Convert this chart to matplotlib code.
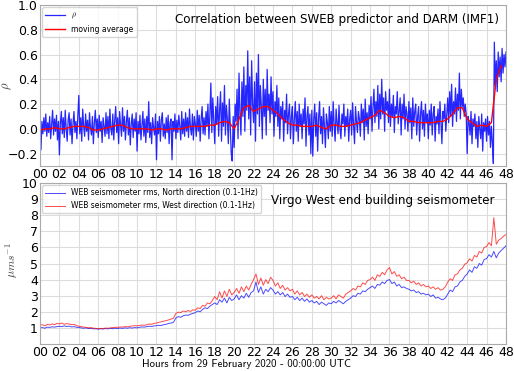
"""
Correlation between SWEB predictor and DARM (IMF1), and Virgo WEB seismometer rms.
"""

import numpy as np
import matplotlib
matplotlib.use("Agg")
import matplotlib.pyplot as plt

# correlation rho, one value every 0.1 h (rows = hours 0..47), last value at 48 h
rho = [
    0.02, -0.17, 0.06, -0.04, 0.09, -0.02, 0.12, -0.06, 0.05, -0.03,
    0.10, -0.08, 0.04, 0.15, -0.05, 0.08, -0.02, 0.11, -0.09, 0.06,
    -0.21, 0.05, 0.14, -0.04, 0.09, -0.07, 0.15, 0.00, -0.10, 0.07,
    0.13, -0.05, 0.08, -0.12, 0.04, 0.14, -0.03, 0.06, -0.08, 0.11,
    0.27, -0.04, 0.09, -0.10, 0.16, 0.02, -0.06, 0.12, -0.02, 0.07,
    -0.09, 0.13, 0.01, -0.05, 0.10, -0.12, 0.05, 0.15, -0.03, 0.08,
    -0.07, 0.11, -0.02, 0.06, -0.11, 0.09, 0.02, -0.06, 0.13, -0.04,
    0.10, -0.08, 0.16, 0.00, -0.05, 0.12, -0.09, 0.07, 0.18, -0.03,
    0.09, -0.12, 0.14, 0.03, -0.06, 0.17, -0.02, 0.10, -0.09, 0.06,
    0.15, -0.05, 0.09, -0.13, 0.04, 0.12, -0.07, 0.08, -0.02, 0.13,
    -0.18, 0.06, -0.04, 0.11, -0.09, 0.03, 0.14, -0.06, 0.08, -0.11,
    0.10, -0.03, 0.22, -0.07, 0.05, -0.12, 0.09, 0.01, -0.05, 0.12,
    -0.25, 0.06, -0.04, 0.10, -0.10, 0.07, 0.13, -0.06, 0.04, -0.08,
    0.09, -0.03, 0.11, -0.12, 0.05, 0.08, -0.25, 0.06, -0.02, 0.12,
    -0.08, 0.07, -0.03, 0.11, 0.02, -0.09, 0.14, -0.04, 0.08, -0.06,
    0.13, -0.02, 0.09, -0.07, 0.16, 0.01, -0.05, 0.12, -0.09, 0.10,
    0.04, -0.06, 0.15, -0.02, 0.11, -0.10, 0.08, 0.18, -0.04, 0.09,
    -0.05, 0.14, 0.02, 0.20, -0.08, 0.12, 0.37, -0.03, 0.25, 0.06,
    -0.12, 0.18, 0.04, 0.26, -0.06, 0.15, 0.30, -0.10, 0.21, 0.02,
    0.35, -0.05, 0.19, 0.08, -0.12, 0.24, 0.03, -0.20, -0.26, 0.10,
    -0.15, 0.20, 0.06, 0.32, -0.08, 0.45, 0.12, -0.05, 0.38, 0.10,
    0.50, -0.02, 0.35, 0.15, 0.63, 0.08, 0.42, -0.05, 0.55, 0.20,
    0.05, 0.38, -0.10, 0.45, 0.12, 0.60, 0.02, 0.35, 0.18, -0.08,
    0.40, 0.10, 0.32, -0.05, 0.48, 0.15, 0.28, 0.05, 0.42, 0.12,
    0.30, -0.06, 0.22, 0.10, 0.35, 0.02, 0.25, -0.08, 0.18, 0.08,
    0.22, -0.10, 0.15, 0.05, 0.28, -0.04, 0.12, 0.20, -0.08, 0.10,
    0.18, -0.12, 0.08, 0.22, -0.02, 0.14, -0.10, 0.20, 0.02, 0.12,
    -0.08, 0.16, 0.04, 0.25, -0.14, 0.10, 0.18, -0.05, 0.12, -0.20,
    0.15, -0.22, 0.08, 0.20, -0.06, 0.13, -0.18, 0.09, 0.22, -0.04,
    0.10, -0.12, 0.17, 0.02, -0.15, 0.12, 0.05, -0.08, 0.18, -0.02,
    0.14, -0.06, 0.22, 0.03, -0.10, 0.16, 0.05, -0.04, 0.19, 0.00,
    -0.08, 0.12, 0.04, 0.20, -0.06, 0.10, 0.02, 0.16, -0.10, 0.08,
    0.15, -0.05, 0.21, 0.03, -0.12, 0.18, 0.06, -0.03, 0.14, 0.08,
    -0.06, 0.20, 0.05, 0.16, -0.09, 0.24, 0.02, 0.13, -0.04, 0.19,
    0.08, 0.26, -0.02, 0.18, 0.32, 0.05, 0.22, 0.10, 0.35, 0.00,
    0.28, 0.08, 0.40, 0.12, 0.25, -0.02, 0.30, 0.15, 0.22, 0.05,
    0.32, 0.02, 0.20, 0.10, 0.27, -0.03, 0.18, 0.12, 0.30, 0.04,
    0.15, 0.25, -0.05, 0.20, 0.08, 0.28, 0.00, 0.18, 0.12, -0.02,
    0.22, 0.05, 0.17, -0.08, 0.25, 0.02, 0.14, 0.20, -0.05, 0.10,
    0.18, -0.10, 0.12, 0.22, 0.00, 0.15, -0.06, 0.20, 0.05, 0.12,
    -0.08, 0.15, 0.03, 0.20, -0.05, 0.12, 0.18, -0.10, 0.10, 0.04,
    0.16, -0.04, 0.22, 0.06, -0.12, 0.14, 0.08, 0.20, -0.02, 0.12,
    0.25, 0.05, 0.30, 0.10, 0.36, 0.02, 0.22, 0.12, 0.33, 0.06,
    0.28, 0.15, 0.45, 0.08, 0.32, 0.18, 0.25, 0.10, 0.20, 0.12,
    -0.20, 0.10, 0.05, -0.05, 0.14, -0.12, 0.08, 0.02, 0.12, -0.08,
    0.06, -0.15, 0.10, 0.00, -0.08, 0.12, -0.18, 0.05, -0.02, 0.08,
    -0.10, 0.10, -0.05, 0.06, -0.15, 0.02, -0.12, -0.28, 0.70, 0.35,
    0.55, 0.30, 0.62, 0.42, 0.58, 0.38, 0.65, 0.45, 0.60, 0.50,
    0.62,
]

# moving average of rho, one value every 0.5 h from 0 to 47.5 h
rho_avg = [
    -0.01, 0.00, 0.00, 0.01, 0.00, 0.00, 0.01, 0.02, 0.02, 0.02,
    0.01, -0.01, -0.01, 0.00, 0.01, 0.02, 0.03, 0.03, 0.01, 0.00,
    0.00, 0.00, 0.00, -0.01, 0.00, 0.00, -0.01, 0.00, 0.00, 0.00,
    0.01, 0.02, 0.02, 0.02, 0.02, 0.03, 0.03, 0.05, 0.06, 0.05,
    0.00, 0.08, 0.17, 0.19, 0.14, 0.16, 0.18, 0.18, 0.15, 0.12,
    0.08, 0.05, 0.03, 0.03, 0.02, 0.02, 0.02, 0.03, 0.01, 0.00,
    0.03, 0.03, 0.02, 0.02, 0.03, 0.04, 0.05, 0.07, 0.09, 0.11,
    0.15, 0.13, 0.10, 0.09, 0.10, 0.09, 0.06, 0.06, 0.05, 0.05,
    0.05, 0.05, 0.06, 0.06, 0.08, 0.12, 0.17, 0.17, 0.08, 0.05,
    0.02, 0.03, 0.02, 0.05, 0.40, 0.51,
]

# seismometer rms (um/s), one value every 0.25 h (rows = 2 h), last value at 48 h
north = [
    1.00, 1.02, 0.98, 1.05, 1.03, 1.07, 1.05, 1.08,
    1.10, 1.08, 1.12, 1.09, 1.11, 1.06, 1.08, 1.04,
    1.02, 1.00, 0.98, 1.00, 0.96, 0.97, 0.94, 0.95,
    0.92, 0.95, 0.93, 0.96, 0.94, 0.97, 0.95, 0.98,
    0.96, 0.99, 0.97, 1.00, 0.98, 1.01, 0.99, 1.02,
    1.00, 1.04, 1.06, 1.05, 1.08, 1.10, 1.09, 1.12,
    1.14, 1.16, 1.15, 1.20, 1.22, 1.28, 1.30, 1.35,
    1.62, 1.70, 1.66, 1.75, 1.80, 1.78, 1.85, 1.90,
    1.95, 2.05, 2.00, 2.15, 2.25, 2.20, 2.35, 2.45,
    2.55, 2.45, 2.75, 2.60, 2.85, 2.55, 2.90, 2.70,
    2.80, 3.05, 2.75, 3.00, 2.85, 3.15, 2.90, 3.20,
    3.30, 3.85, 3.20, 3.55, 3.10, 3.40, 3.25, 3.50,
    3.35, 3.10, 3.25, 3.05, 3.20, 2.95, 3.10, 2.90,
    2.95, 2.75, 2.90, 2.70, 2.85, 2.65, 2.80, 2.60,
    2.70, 2.55, 2.65, 2.45, 2.60, 2.50, 2.40, 2.55,
    2.50, 2.65, 2.55, 2.70, 2.60, 2.50, 2.65, 2.75,
    2.85, 3.00, 2.95, 3.15, 3.10, 3.30, 3.25, 3.40,
    3.50, 3.60, 3.45, 3.70, 3.65, 3.85, 3.75, 3.95,
    4.00, 3.75, 3.85, 3.60, 3.70, 3.50, 3.55, 3.45,
    3.40, 3.30, 3.35, 3.20, 3.25, 3.10, 3.15, 3.05,
    3.10, 2.95, 3.05, 2.85, 2.90, 2.80, 2.75, 2.85,
    3.10, 3.35, 3.25, 3.55, 3.60, 3.85, 3.95, 4.20,
    4.35, 4.60, 4.45, 4.80, 4.70, 5.00, 4.90, 5.25,
    5.30, 5.55, 5.40, 5.75, 5.35, 5.65, 5.80, 5.95,
    6.10,
]
west = [
    1.15, 1.20, 1.12, 1.22, 1.18, 1.25, 1.20, 1.28,
    1.25, 1.30, 1.22, 1.27, 1.24, 1.20, 1.22, 1.15,
    1.10, 1.08, 1.05, 1.03, 1.00, 1.02, 0.98, 0.97,
    0.95, 0.97, 0.96, 0.99, 0.98, 1.00, 1.02, 1.04,
    1.03, 1.06, 1.05, 1.08, 1.07, 1.10, 1.12, 1.14,
    1.12, 1.15, 1.18, 1.16, 1.20, 1.24, 1.22, 1.28,
    1.30, 1.35, 1.38, 1.42, 1.45, 1.50, 1.55, 1.60,
    1.90, 1.98, 1.95, 2.05, 2.00, 2.08, 2.02, 2.12,
    2.10, 2.25, 2.20, 2.40, 2.35, 2.55, 2.50, 2.70,
    2.95, 2.75, 3.25, 2.85, 3.30, 2.95, 3.40, 3.05,
    3.20, 3.45, 3.15, 3.55, 3.25, 3.60, 3.35, 3.70,
    4.00, 4.35, 3.70, 4.10, 3.65, 4.00, 3.75, 4.15,
    3.95, 3.60, 3.80, 3.45, 3.65, 3.35, 3.50, 3.30,
    3.40, 3.10, 3.30, 3.05, 3.20, 2.95, 3.10, 2.90,
    3.05, 2.85, 2.95, 2.80, 3.00, 2.75, 2.90, 2.80,
    2.85, 3.00, 2.80, 3.05, 2.95, 2.85, 3.10, 3.20,
    3.30, 3.45, 3.35, 3.60, 3.55, 3.80, 3.70, 3.95,
    4.00, 4.15, 3.95, 4.30, 4.20, 4.45, 4.30, 4.60,
    4.75, 4.35, 4.50, 4.20, 4.30, 4.05, 4.15, 3.95,
    3.95, 3.80, 3.90, 3.70, 3.80, 3.60, 3.70, 3.55,
    3.60, 3.45, 3.55, 3.40, 3.50, 3.35, 3.40, 3.55,
    3.85, 4.05, 3.95, 4.30, 4.35, 4.60, 4.70, 4.95,
    5.05, 5.30, 5.15, 5.50, 5.40, 5.75, 5.65, 6.00,
    6.05, 6.30, 6.10, 7.85, 6.20, 6.45, 6.55, 6.70,
    6.80,
]

hour_labels = ["%02d" % h for h in range(0, 49, 2)]

t_rho = np.arange(len(rho)) * 0.1
t_avg = np.arange(len(rho_avg)) * 0.5
t_seis = np.arange(len(north)) * 0.25

plt.rcParams["font.family"] = ["DejaVu Sans"]
plt.rcParams["mathtext.fontset"] = "cm"

fig = plt.figure(figsize=(5.14, 3.71), dpi=100)
ax1 = fig.add_axes([0.0778, 0.5526, 0.9066, 0.4339])
ax2 = fig.add_axes([0.0778, 0.0728, 0.9066, 0.4339])

ax1.plot(t_rho, rho, color="blue", lw=0.9, alpha=0.85, label=r"$\rho$")
ax1.plot(t_avg, rho_avg, color="red", lw=1.0, label="moving average")
ax1.set_xlim(0, 48)
ax1.set_ylim(-0.3, 1.0)
ax1.set_yticks([-0.2, 0.0, 0.2, 0.4, 0.6, 0.8, 1.0])
ax1.set_ylabel(r"$\rho$", fontsize=9, color="#444444")
ax1.yaxis.set_label_coords(-0.055, 0.5)
ax1.text(0.985, 0.95, "Correlation between SWEB predictor and DARM (IMF1)",
         transform=ax1.transAxes, ha="right", va="top", fontsize=8.6)
ax1.legend(loc="upper left", fontsize=5.5, frameon=True, handlelength=2.6,
           borderaxespad=0.3, fancybox=True)

ax2.plot(t_seis, north, color="blue", lw=0.7, alpha=0.7,
         label="WEB seismometer rms, North direction (0.1-1Hz)")
ax2.plot(t_seis, west, color="red", lw=0.7, alpha=0.7,
         label="WEB seismometer rms, West direction (0.1-1Hz)")
ax2.set_xlim(0, 48)
ax2.set_ylim(0, 10)
ax2.set_yticks(range(1, 11))
ax2.set_ylabel(r"$\mu m s^{-1}$", fontsize=8.5, color="#444444")
ax2.yaxis.set_label_coords(-0.042, 0.52)
ax2.text(0.975, 0.93, "Virgo West end building seismometer",
         transform=ax2.transAxes, ha="right", va="top", fontsize=8.6)
ax2.legend(loc="upper left", fontsize=5.5, frameon=True, handlelength=2.6,
           borderaxespad=0.3, fancybox=True)

for ax in (ax1, ax2):
    ax.set_xticks(range(0, 49, 2))
    ax.set_xticklabels(hour_labels)
    ax.tick_params(labelsize=9, pad=1.5, length=0)
    ax.grid(True, color="#dddddd", lw=0.8)
    ax.set_axisbelow(True)
    for s in ax.spines.values():
        s.set_color("#aaaaaa")

fig.text(247 / 514, 1 - 364 / 371, "Hours from 29 February 2020 - 00:00:00 UTC",
         ha="center", va="center", fontsize=7.8, family="cmss10")

fig.savefig("out.png", dpi=100)
